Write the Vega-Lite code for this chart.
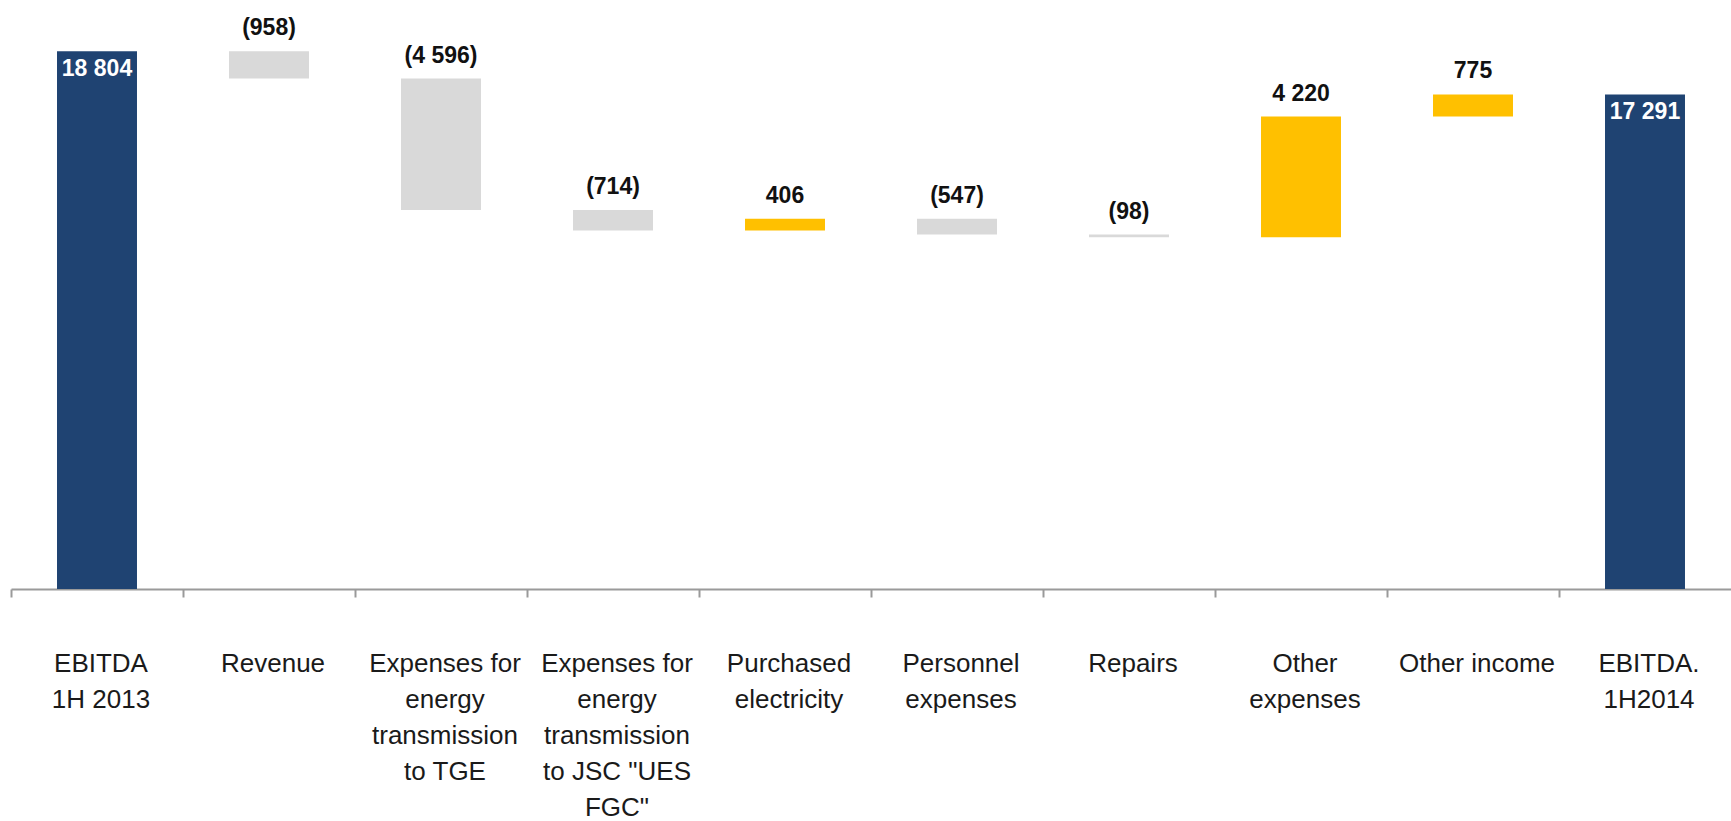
{
  "$schema": "https://vega.github.io/schema/vega-lite/v6.json",
  "width": 1720,
  "height": 572,
  "autosize": {"type": "none"},
  "padding": {"left": 11, "top": 17, "right": 0, "bottom": 232},
  "background": "white",
  "view": {"stroke": null},
  "data": {
    "values": [
      {"cat": "EBITDA|1H 2013", "lo": 0, "hi": 18804, "label": "18 804", "kind": "total"},
      {"cat": "Revenue", "lo": 17846, "hi": 18804, "label": "(958)", "kind": "dec"},
      {"cat": "Expenses for|energy|transmission|to TGE", "lo": 13250, "hi": 17846, "label": "(4 596)", "kind": "dec"},
      {"cat": "Expenses for|energy|transmission|to JSC \"UES|FGC\"", "lo": 12536, "hi": 13250, "label": "(714)", "kind": "dec"},
      {"cat": "Purchased|electricity", "lo": 12536, "hi": 12942, "label": "406", "kind": "inc"},
      {"cat": "Personnel|expenses", "lo": 12395, "hi": 12942, "label": "(547)", "kind": "dec"},
      {"cat": "Repairs", "lo": 12297, "hi": 12395, "label": "(98)", "kind": "dec"},
      {"cat": "Other|expenses", "lo": 12297, "hi": 16517, "label": "4 220", "kind": "inc"},
      {"cat": "Other income", "lo": 16517, "hi": 17292, "label": "775", "kind": "inc"},
      {"cat": "EBITDA.|1H2014", "lo": 0, "hi": 17291, "label": "17 291", "kind": "total"}
    ]
  },
  "layer": [
    {
      "mark": {"type": "bar", "width": {"band": 0.465}},
      "encoding": {
        "x": {
          "field": "cat",
          "type": "nominal",
          "sort": null,
          "title": null,
          "scale": {"paddingInner": 0, "paddingOuter": 0},
          "axis": {
            "labelExpr": "split(datum.label, '|')",
            "labelAngle": 0,
            "labelFont": "Liberation Sans",
            "labelFontSize": 26,
            "labelLineHeight": 36,
            "labelColor": "#1a1a1a",
            "labelPadding": 53,
            "labelLimit": 400,
            "labelOverlap": false,
            "bandPosition": 0,
            "labelOffset": 4,
            "domainColor": "#9a9a9a",
            "domainWidth": 2,
            "tickColor": "#9a9a9a",
            "tickWidth": 2,
            "tickSize": 8,
            "grid": false
          }
        },
        "y": {
          "field": "hi",
          "type": "quantitative",
          "scale": {"domain": [0, 20000], "nice": false},
          "axis": null
        },
        "y2": {"field": "lo"},
        "color": {
          "field": "kind",
          "type": "nominal",
          "scale": {"domain": ["total", "dec", "inc"], "range": ["#1F4372", "#D9D9D9", "#FFC000"]},
          "legend": null
        }
      }
    },
    {
      "transform": [{"filter": "datum.kind != 'total'"}],
      "mark": {"type": "text", "baseline": "alphabetic", "dy": -16, "font": "Liberation Sans", "fontWeight": "bold", "fontSize": 23, "color": "#111111"},
      "encoding": {
        "x": {"field": "cat", "type": "nominal", "sort": null},
        "y": {"field": "hi", "type": "quantitative"},
        "text": {"field": "label"}
      }
    },
    {
      "transform": [{"filter": "datum.kind == 'total'"}],
      "mark": {"type": "text", "baseline": "alphabetic", "dy": 25, "font": "Liberation Sans", "fontWeight": "bold", "fontSize": 23, "color": "#ffffff"},
      "encoding": {
        "x": {"field": "cat", "type": "nominal", "sort": null},
        "y": {"field": "hi", "type": "quantitative"},
        "text": {"field": "label"}
      }
    }
  ]
}
